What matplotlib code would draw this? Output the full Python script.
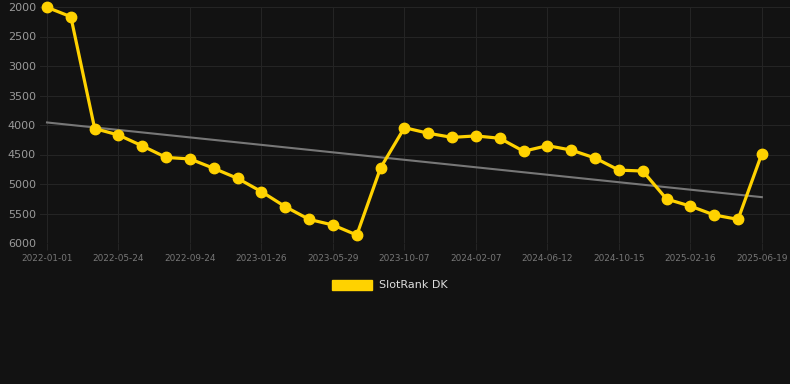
import matplotlib
matplotlib.use("Agg")
from matplotlib import pyplot as plt
from matplotlib.patches import Patch
import numpy as np

# data
tick_labels = ["2022-01-01", "2022-05-24", "2022-09-24", "2023-01-26", "2023-05-29",
               "2023-10-07", "2024-02-07", "2024-06-12", "2024-10-15", "2025-02-16",
               "2025-06-19"]
rank_dk = [2005, 2165, 4060, 4170, 4355, 4550, 4575, 4735, 4905, 5130,
           5385, 5600, 5695, 5865, 4725, 4045, 4140, 4210, 4185, 4225,
           4445, 4350, 4425, 4560, 4765, 4780, 5255, 5375, 5525, 5600,
           4485]

bg = "#121212"
gold = "#FFD200"

fig = plt.figure(figsize=(7.9, 3.84), dpi=100, facecolor=bg)
ax = fig.add_axes([40 / 790, (384 - 243) / 384, 750 / 790, 236 / 384], facecolor=bg)

x = np.arange(len(rank_dk))
# trend line (least squares)
k, b = np.polyfit(x, rank_dk, 1)
ax.plot(x, k * x + b, color="#777777", lw=1.5, zorder=2)

ax.plot(x, rank_dk, color=gold, lw=2.3, marker="o", ms=7.5, zorder=3, clip_on=False)

ax.set_ylim(6000, 2000)
ax.set_xlim(-0.294, 31.18)
ax.set_yticks(range(2000, 6001, 500))
ax.set_xticks(x[::3])
ax.set_xticklabels(tick_labels)

ax.grid(True, color="#242424", lw=0.8)
ax.set_axisbelow(True)
for s in ax.spines.values():
    s.set_visible(False)
ax.tick_params(axis="y", length=0, pad=3, labelsize=8, labelcolor="#9a9a9a")
ax.tick_params(axis="x", length=5, color="#242424", pad=3, labelsize=6.4, labelcolor="#777777")

fig.legend(handles=[Patch(facecolor=gold, edgecolor=gold)], labels=["SlotRank DK"],
           loc="center", bbox_to_anchor=(390 / 790, 1 - 285 / 384), frameon=False,
           handlelength=3.6, handleheight=1.0, fontsize=8, labelcolor="#dddddd",
           handletextpad=0.6)

plt.savefig("out.png", dpi=100, facecolor=bg)
